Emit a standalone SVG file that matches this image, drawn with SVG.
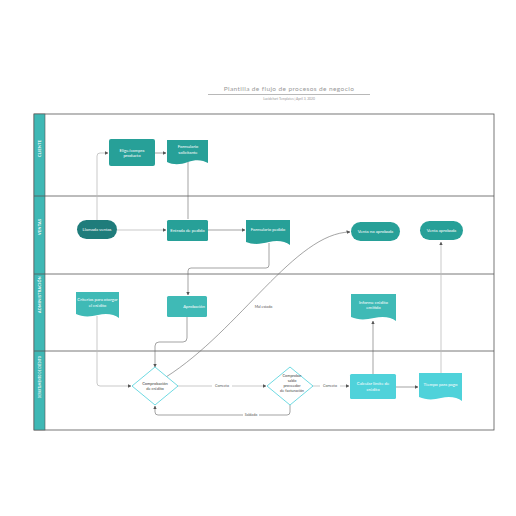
<svg xmlns="http://www.w3.org/2000/svg" width="516" height="516" viewBox="0 0 516 516">
<style>
text{font-family:"Lato","Liberation Sans",sans-serif}
.t{fill:#fff;font-size:4.3px;text-anchor:middle}
.lane{fill:#fff;font-size:3.8px;font-weight:bold;letter-spacing:0.3px}
.c{fill:none;stroke:#666;stroke-width:0.6}
.cl{fill:none;stroke:#bbb;stroke-width:0.8}
.lbl{font-size:3.6px;fill:#555;text-anchor:middle}
.dk{fill:#1f7c7b}.md{fill:#27a098}.lt{fill:#3fbab6}.cy{fill:#4fd2da}
</style>
<defs>
<marker id="a" viewBox="0 0 6 6" refX="5.5" refY="3" markerWidth="3.8" markerHeight="3.8" markerUnits="userSpaceOnUse" orient="auto"><path d="M0,0L6,3L0,6z" fill="#555"/></marker>
</defs>
<rect width="516" height="516" fill="#fff"/>
<text x="289" y="91" font-size="6.5" fill="#9a9a9a" text-anchor="middle" letter-spacing="0.4">Plantilla de flujo de procesos de negocio</text>
<line x1="208" y1="94.5" x2="370" y2="94.5" stroke="#888" stroke-width="0.6"/>
<text x="289" y="99.5" font-size="3.3" fill="#999" text-anchor="middle">Lucidchart Templates  |  April 3, 2020</text>
<g id="lanes">
<rect x="34" y="114" width="460" height="316" fill="none" stroke="#555" stroke-width="0.8"/>
<rect x="34" y="114" width="11" height="316" fill="#3fb8b5" stroke="#555" stroke-width="0.6"/>
<line x1="34" y1="196" x2="494" y2="196" stroke="#555" stroke-width="0.8"/>
<line x1="34" y1="274" x2="494" y2="274" stroke="#555" stroke-width="0.8"/>
<line x1="34" y1="351" x2="494" y2="351" stroke="#555" stroke-width="0.8"/>
<text class="lane" transform="translate(41,157) rotate(-90)">CLIENTE</text>
<text class="lane" transform="translate(41,235) rotate(-90)">VENTAS</text>
<text class="lane" transform="translate(41,313) rotate(-90)" textLength="37" lengthAdjust="spacingAndGlyphs">ADMINISTRACIÓN</text>
<text class="lane" transform="translate(41,398) rotate(-90)" textLength="42" lengthAdjust="spacingAndGlyphs">DEPARTAMENTO DE CRÉDITO</text>
</g>
<g id="connectors">
<path class="cl" d="M97,220 V156 Q97,153 100,153 H108" marker-end="url(#a)"/>
<path class="c" d="M155,153 H166" marker-end="url(#a)"/>
<path class="c" d="M188,162 V219"/>
<path class="cl" d="M117,230 H166" marker-end="url(#a)"/>
<path class="c" d="M208,230 H245" marker-end="url(#a)"/>
<path class="c" d="M269,243 V265 Q269,268 266,268 H191 Q188,268 188,271 V295" marker-end="url(#a)"/>
<path class="c" d="M187,317 V338 Q187,342 183,342 H159 Q155,342 155,346 V367" marker-end="url(#a)"/>
<path class="cl" d="M97,316 V383 Q97,386 100,386 H131" marker-end="url(#a)"/>
<path class="cl" d="M177,386 H266" marker-end="url(#a)" stroke-width="1.4"/>
<rect x="212" y="384" width="20" height="4" fill="#fff"/>
<text class="lbl" x="222" y="387.3">Correcto</text>
<path class="c" d="M290,405 V412 Q290,415 287,415 H158 Q155,415 155,412 V406" marker-end="url(#a)"/>
<rect x="243" y="413" width="16" height="4" fill="#fff"/>
<text class="lbl" x="251" y="416.3">Saldado</text>
<path class="cl" d="M312,386 H349" marker-end="url(#a)" stroke-width="1.4"/>
<rect x="320" y="384" width="20" height="4" fill="#fff"/>
<text class="lbl" x="330" y="387.3">Correcto</text>
<path class="c" d="M373,374 V321" marker-end="url(#a)"/>
<path class="c" d="M396,387 H418" marker-end="url(#a)" stroke-width="0.8"/>
<path class="cl" d="M441,373 V242" marker-end="url(#a)"/>
<path class="c" d="M166,377 C240,330 295,233 350,232" marker-end="url(#a)"/>
<rect x="255" y="305" width="17" height="4" fill="#fff"/>
<text class="lbl" x="263.5" y="308.3">Mal estado</text>
</g>
<g id="n1"><rect class="md" x="109" y="139" width="46" height="27" rx="2"/><text class="t" x="132" y="151.5">Elige/compra</text><text class="t" x="132" y="157">producto</text></g>
<g id="n2"><path class="md" d="M167,140 H208 V163 C203,160 196,159 188,162 C180,165 173,165 167,162 Z"/><text class="t" x="188" y="148">Formulario</text><text class="t" x="188" y="153.5">solicitante</text></g>
<g id="n3"><rect class="dk" x="77" y="220" width="40" height="19" rx="9.5"/><text class="t" x="97" y="231">Llamada ventas</text></g>
<g id="n4"><rect class="md" x="167" y="220" width="41" height="21" rx="1.5"/><text class="t" x="187.5" y="231.5">Entrada de pedido</text></g>
<g id="n5"><path class="md" d="M246,220 H290 V245 C285,241 277,240 269,242 C261,244 253,245 246,242 Z"/><text class="t" x="268" y="231">Formulario pedido</text></g>
<g id="n6"><rect class="md" x="351" y="222" width="49" height="19" rx="9.5"/><text class="t" x="375.5" y="233">Venta no aprobada</text></g>
<g id="n7"><rect class="md" x="420" y="221" width="43" height="19" rx="9.5"/><text class="t" x="441.5" y="232">Venta aprobada</text></g>
<g id="n8"><path class="lt" d="M76,292 H119 V318 C114,314 106,313 98,315 C90,317 82,317 76,314 Z"/><text class="t" x="97.5" y="301">Criterios para otorgar</text><text class="t" x="97.5" y="306.5">el crédito</text></g>
<g id="n9"><rect class="lt" x="167" y="296" width="40" height="21" rx="1.5"/><text class="t" x="194" y="307.5">Aprobación</text></g>
<g id="n10"><path class="lt" d="M351,294 H396 V321 C391,317 383,316 374,318 C365,320 358,320 351,317 Z"/><text class="t" x="373.5" y="303.5">Informe crédito</text><text class="t" x="373.5" y="309">emitido</text></g>
<g id="n11"><path d="M155,367 L178,386 L155,405 L132,386 Z" fill="#fff" stroke="#5fd6df" stroke-width="0.9"/><text x="155" y="384.5" font-size="4" fill="#444" text-anchor="middle">Comprobación</text><text x="155" y="390" font-size="4" fill="#444" text-anchor="middle">de crédito</text></g>
<g id="n12"><path d="M290,367 L313,386 L290,405 L267,386 Z" fill="#fff" stroke="#5fd6df" stroke-width="0.9"/><text x="292" y="377" font-size="3.8" fill="#444" text-anchor="middle">Comprobar</text><text x="292" y="382" font-size="3.8" fill="#444" text-anchor="middle">saldo</text><text x="292" y="387" font-size="3.8" fill="#444" text-anchor="middle">proveedor</text><text x="292" y="392" font-size="3.8" fill="#444" text-anchor="middle">de facturación</text></g>
<g id="n13"><rect class="cy" x="350" y="374" width="46" height="25" rx="1.5"/><text class="t" x="373" y="385">Calcular límite de</text><text class="t" x="373" y="390.5">crédito</text></g>
<g id="n14"><path class="cy" d="M419,373 H462 V401 C457,397 449,396 441,398 C433,400 426,400 419,397 Z"/><text class="t" x="440.5" y="386">Tiempo para pago</text></g>
</svg>
